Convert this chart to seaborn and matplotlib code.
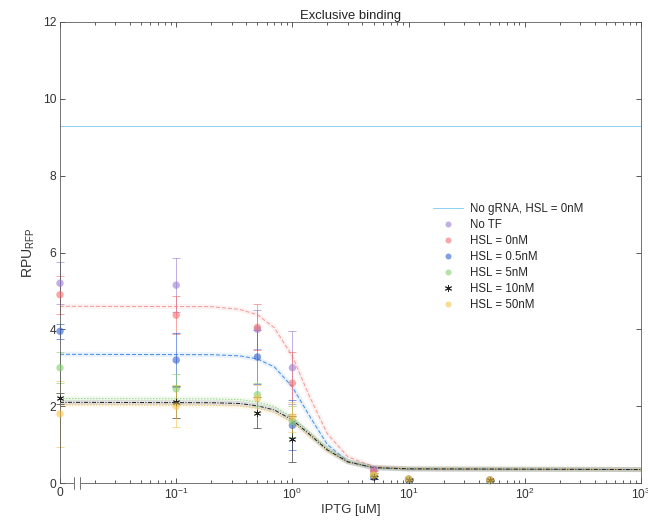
import numpy as np
import pandas as pd
import matplotlib
matplotlib.use('Agg')
import matplotlib.pyplot as plt
import matplotlib.transforms as mtransforms
from matplotlib.lines import Line2D
import seaborn as sns

# measured points (IPTG in uM, 0 is drawn at the left edge 1e-2)
iptg = [0, 0.1, 0.5, 1, 5, 10, 50]
no_tf = [5.2, 5.15, 4.0, 3.0, 0.35, 0.1, 0.08]
no_tf_err = [0.55, 0.7, 0.5, 0.95, 0.05, 0.03, 0.03]
hsl0 = [4.9, 4.37, 4.05, 2.6, 0.3, 0.1, 0.08]
hsl0_err = [0.5, 0.5, 0.6, 0.8, 0.05, 0.03, 0.03]
hsl05 = [3.95, 3.2, 3.28, 1.5, 0.15, 0.08, 0.06]
hsl05_err = [0.2, 0.7, 0.7, 0.65, 0.04, 0.02, 0.02]
hsl5 = [3.0, 2.45, 2.3, 1.6, 0.2, 0.1, 0.07]
hsl5_err = [0.4, 0.4, 0.3, 0.4, 0.04, 0.03, 0.02]
hsl10 = [2.2, 2.1, 1.83, 1.14, 0.15, 0.09, 0.07]
hsl10_err = [0.15, 0.42, 0.4, 0.6, 0.04, 0.02, 0.02]
hsl50 = [1.8, 2.0, 2.2, 1.72, 0.2, 0.1, 0.08]
hsl50_err = [0.85, 0.55, 0.35, 0.4, 0.05, 0.03, 0.03]

# fitted curves
fit_x = [0.01, 0.2, 0.35, 0.5, 0.7, 1, 1.4, 2, 3, 5, 10, 1000]
fit_hsl0 = [4.6, 4.59, 4.52, 4.38, 4.04, 3.3, 2.26, 1.28, 0.68, 0.43, 0.36, 0.35]
fit_hsl05 = [3.35, 3.34, 3.31, 3.23, 3.02, 2.5, 1.75, 1.0, 0.56, 0.39, 0.36, 0.35]
fit_hsl5 = [2.2, 2.19, 2.17, 2.11, 1.99, 1.71, 1.32, 0.89, 0.56, 0.40, 0.37, 0.35]
fit_hsl10 = [2.1, 2.09, 2.07, 2.01, 1.9, 1.64, 1.27, 0.86, 0.55, 0.40, 0.37, 0.35]
fit_hsl50 = [2.03, 2.02, 2.0, 1.94, 1.83, 1.58, 1.23, 0.84, 0.54, 0.40, 0.37, 0.35]
no_grna = 9.3

xticks = [0.01, 0.1, 1, 10, 100, 1000]
xticklabels = ['0', '$10^{-1}$', '$10^{0}$', '$10^{1}$', '$10^{2}$', '$10^{3}$']

sns.set_style('ticks')
plt.rcParams['font.family'] = ['Liberation Sans', 'DejaVu Sans']
plt.rcParams['mathtext.default'] = 'regular'

fig = plt.figure(figsize=(9, 7.375), dpi=72)
ax = fig.add_axes([60 / 648, 48 / 531, 581 / 648, 461 / 531])

xp = [v if v > 0 else 0.01 for v in iptg]

# no gRNA reference line
ax.axhline(no_grna, color='#8fd3f2', lw=1.0)

fits = [
    (fit_hsl0, '#f39a9a', (0, (4, 2))),
    (fit_hsl05, '#4a8fe0', (0, (4, 2))),
    (fit_hsl5, '#9ad68a', (0, (1.5, 1.5))),
    (fit_hsl50, '#f9d27a', (0, (1.5, 1.5))),
    (fit_hsl10, '#222222', (0, (4, 1.5, 1, 1.5))),
]
for ys, c, ls in fits:
    sns.lineplot(x=fit_x, y=ys, ax=ax, color=c, lw=5, alpha=0.12, sort=False, estimator=None)
    sns.lineplot(x=fit_x, y=ys, ax=ax, color=c, lw=1.0, linestyle=ls, sort=False, estimator=None)

series = [
    ('No TF', no_tf, no_tf_err, '#9a7cd4', 'o'),
    ('HSL = 0nM', hsl0, hsl0_err, '#f26d6d', 'o'),
    ('HSL = 0.5nM', hsl05, hsl05_err, '#2f5fd0', 'o'),
    ('HSL = 5nM', hsl5, hsl5_err, '#84cf6f', 'o'),
    ('HSL = 10nM', hsl10, hsl10_err, '#222222', '*'),
    ('HSL = 50nM', hsl50, hsl50_err, '#f7c348', 'o'),
]
for name, ys, es, c, m in series:
    ax.errorbar(xp, ys, yerr=es, fmt='none', ecolor=c, elinewidth=1.0,
                capsize=4, alpha=0.6, clip_on=False)
    if m == '*':
        ax.scatter(xp, ys, marker=(6, 2, 0), s=40, color=c, lw=0.9, clip_on=False, zorder=4)
    else:
        sns.scatterplot(x=xp, y=ys, ax=ax, color=c, s=55, alpha=0.6,
                        edgecolor='none', clip_on=False, zorder=4)

ax.set_xscale('log')
ax.set_xlim(0.01, 1000)
ax.set_ylim(0, 12)
ax.set_xticks(xticks)
ax.set_xticklabels(xticklabels)
ax.set_yticks([0, 2, 4, 6, 8, 10, 12])
ax.tick_params(which='both', direction='in', top=True, right=True,
               labelsize=12, colors='#333333', width=0.8)
ax.tick_params(which='major', length=5)
ax.tick_params(which='minor', length=3)
for s in ax.spines.values():
    s.set_color('#555555')
    s.set_linewidth(0.8)

ax.set_title('Exclusive binding', fontsize=13, color='#222222', pad=2)
ax.set_xlabel('IPTG [uM]', fontsize=13, color='#333333', labelpad=2)
ax.set_ylabel('RPU$_{RFP}$', fontsize=14, color='#333333', labelpad=6)

# axis break mark near 0
tr = mtransforms.blended_transform_factory(ax.transData, ax.transAxes)
ax.fill_between([0.0133, 0.0149], -0.012, 0.012, transform=tr, color='white',
                zorder=5, clip_on=False)
for bx in (0.0133, 0.0149):
    ax.plot([bx, bx], [-0.014, 0.014], transform=tr, color='#555555', lw=0.8,
            clip_on=False, zorder=6)

handles = [Line2D([], [], color='#8fd3f2', lw=1.0)]
labels = ['No gRNA, HSL = 0nM']
for name, ys, es, c, m in series:
    if m == '*':
        handles.append(Line2D([], [], ls='none', marker=(6, 2, 0), ms=7, color=c, mew=0.9))
    else:
        handles.append(Line2D([], [], ls='none', marker='o', ms=6, color=c, alpha=0.6, mec='none'))
    labels.append(name)
ax.legend(handles, labels, loc='upper left', bbox_to_anchor=(0.625, 0.63),
          frameon=False, fontsize=11.5, handlelength=2.6, labelspacing=0.35,
          handletextpad=0.6)

fig.savefig('out.png', dpi=72)
